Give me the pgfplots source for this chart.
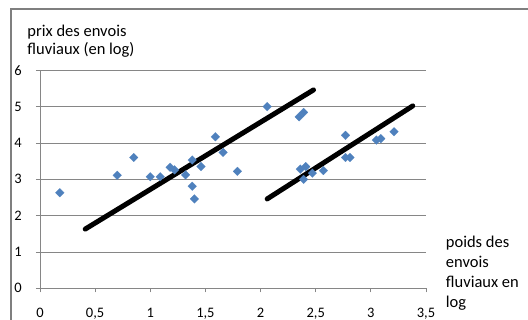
\documentclass[border=0pt]{standalone}
\usepackage{fontspec}
\setmainfont{Carlito}
\usepackage{pgfplots}
\pgfplotsset{compat=1.18}
\definecolor{pts}{HTML}{4F81BD}
\definecolor{gridc}{HTML}{868686}
\definecolor{framec}{HTML}{7F7F7F}
\begin{document}
\begin{tikzpicture}
\path[use as bounding box] (-40bp,-31.7bp) rectangle (488bp,288.3bp);
\draw[framec, line width=1.2bp] (-29bp,-31.7bp) -- (-29bp,279.3bp) -- (488bp,279.3bp);
\begin{axis}[
  at={(0,0)}, anchor=origin,
  scale only axis, width=386bp, height=218bp,
  xmin=0, xmax=3.5, ymin=0, ymax=6,
  axis lines*=left,
  axis line style={gridc, line width=0.9bp},
  tick style={gridc, line width=0.9bp},
  tick align=outside, major tick length=4bp,
  xtick={0,0.5,1,1.5,2,2.5,3,3.5},
  xticklabels={0,{0,5},1,{1,5},2,{2,5},3,{3,5}},
  ytick={0,1,2,3,4,5,6},
  ymajorgrids, grid style={gridc, line width=0.9bp},
  /pgf/number format/assume math mode=true,
  ticklabel style={font=\fontsize{14.5bp}{17bp}\selectfont, inner sep=0pt, text=black},
  xticklabel style={anchor=north, yshift=-15.7bp},
  yticklabel style={anchor=east, xshift=-14bp},
  clip=false,
]
\addplot[only marks, mark=square*, mark size=3.1bp, mark options={rotate=45, fill=pts, draw=pts, line width=0.1bp}] coordinates {
(0.18,2.63) (0.70,3.11) (0.85,3.60) (1.00,3.07) (1.09,3.07)
(1.18,3.33) (1.22,3.26) (1.32,3.12) (1.38,3.53) (1.38,2.81)
(1.40,2.46) (1.46,3.35) (1.59,4.17) (1.66,3.74) (1.79,3.22)
(2.06,5.00) (2.35,4.72) (2.39,4.84) (2.77,4.21) (2.77,3.60)
(2.81,3.60) (3.05,4.08) (3.09,4.12) (3.21,4.31)
(2.36,3.28) (2.41,3.35) (2.39,3.00) (2.47,3.17) (2.57,3.24)
};
\addplot[black, line width=5bp, line cap=round] coordinates {(0.41,1.63) (2.48,5.46)};
\addplot[black, line width=5bp, line cap=round] coordinates {(2.06,2.46) (3.38,5.02)};
\end{axis}
\begin{scope}[every node/.style={inner sep=0pt, font=\fontsize{16.5bp}{20bp}\selectfont, anchor=base west}]
\node at (-12.7bp,251.6bp) {prix des envois};
\node at (-12.7bp,233.6bp) {fluviaux (en log)};
\node at (405.7bp,41bp) {poids des};
\node at (405.7bp,21bp) {envois};
\node at (405.7bp,1bp) {fluviaux en};
\node at (405.7bp,-19bp) {log};
\end{scope}
\end{tikzpicture}
\end{document}
